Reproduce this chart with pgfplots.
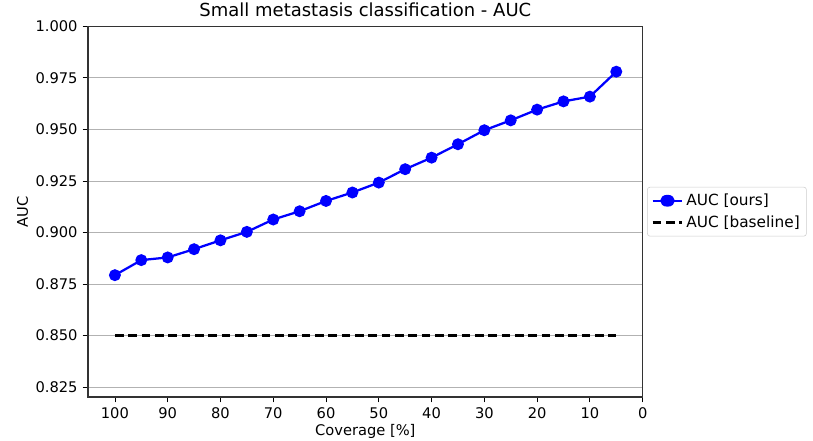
\documentclass[border=0pt]{standalone}
\usepackage{pgfplots}
\pgfplotsset{compat=1.18}
\usepackage{fontspec}
\setmainfont{DejaVu Sans}
\begin{document}
\fontsize{11pt}{13pt}\selectfont
\begin{tikzpicture}
\begin{axis}[
    at={(0,0)}, anchor=south west,
    scale only axis,
    width=416pt, height=278pt,
    x dir=reverse,
    xmin=0, xmax=105.1,
    ymin=0.8202, ymax=1.0,
    xtick={0,10,...,100},
    ytick={0.825,0.85,...,1.0},
    yticklabel style={/pgf/number format/.cd, fixed, fixed zerofill, precision=3},
    /pgf/number format/assume math mode=true,
    tick align=outside,
    xtick pos=bottom, ytick pos=left,
    major tick length=4pt,
    tick style={black, line width=0.6pt},
    axis line style={line width=0.8pt, black!80},
    ymajorgrids=true,
    grid style={gray!60, line width=0.6pt},
    title={Small metastasis classification - AUC},
    title style={font=\fontsize{13.5pt}{15pt}\selectfont, yshift=-3pt},
    xlabel={Coverage [\%]},
    ylabel={AUC},
    xlabel style={yshift=3pt},
    ylabel style={yshift=-2pt},
    legend style={at={(1.008,0.5)}, anchor=west, draw=gray!40, rounded corners=2pt,
        font=\fontsize{11.5pt}{14pt}\selectfont, row sep=2pt, inner sep=3pt},
    legend image post style={xscale=1.3},
    legend cell align=left,
]
\addplot[blue, line width=1.7pt, mark=*, mark size=3.6pt] coordinates {
    (100,0.8793) (95,0.8866) (90,0.8879) (85,0.8919) (80,0.8962)
    (75,0.9003) (70,0.9063) (65,0.9103) (60,0.9153) (55,0.9194)
    (50,0.9242) (45,0.9307) (40,0.9363) (35,0.9428) (30,0.9496)
    (25,0.9544) (20,0.9596) (15,0.9636) (10,0.9659) (5,0.9780)
};
\addlegendentry{AUC [ours]}
\addplot[black, line width=2pt, dash pattern=on 6.5pt off 3.5pt] coordinates {
    (100,0.85) (5,0.85)
};
\addlegendentry{AUC [baseline]}
\end{axis}
\pgfresetboundingbox
\path (-66pt,-32.25pt) rectangle (543.75pt,297.75pt);
\end{tikzpicture}
\end{document}
